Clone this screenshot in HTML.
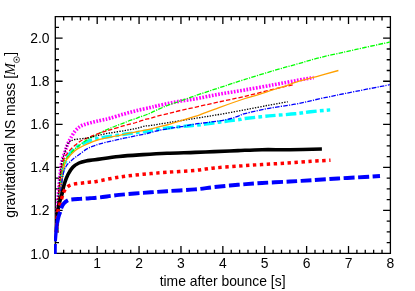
<!DOCTYPE html>
<html><head><meta charset="utf-8"><title>chart</title>
<style>html,body{margin:0;padding:0;background:#fff;}body{width:415px;height:291px;overflow:hidden;font-family:"Liberation Sans",sans-serif;}svg{display:block;position:absolute;left:0;top:0;will-change:transform}</style>
</head><body>
<svg width="415" height="291" viewBox="0 0 415 291">
<rect width="415" height="291" fill="#fff"/>
<clipPath id="c"><rect x="54.0" y="15.7" width="335.79999999999995" height="238.70000000000002"/></clipPath>
<path d="M55.3,16.7 H390.4 V253.4 H55.3 Z M55.30,253.4 v-7.3 M55.30,16.7 v7.3 M63.68,253.4 v-3.7 M63.68,16.7 v3.7 M72.05,253.4 v-3.7 M72.05,16.7 v3.7 M80.43,253.4 v-3.7 M80.43,16.7 v3.7 M88.81,253.4 v-3.7 M88.81,16.7 v3.7 M97.19,253.4 v-7.3 M97.19,16.7 v7.3 M105.56,253.4 v-3.7 M105.56,16.7 v3.7 M113.94,253.4 v-3.7 M113.94,16.7 v3.7 M122.32,253.4 v-3.7 M122.32,16.7 v3.7 M130.70,253.4 v-3.7 M130.70,16.7 v3.7 M139.07,253.4 v-7.3 M139.07,16.7 v7.3 M147.45,253.4 v-3.7 M147.45,16.7 v3.7 M155.83,253.4 v-3.7 M155.83,16.7 v3.7 M164.21,253.4 v-3.7 M164.21,16.7 v3.7 M172.58,253.4 v-3.7 M172.58,16.7 v3.7 M180.96,253.4 v-7.3 M180.96,16.7 v7.3 M189.34,253.4 v-3.7 M189.34,16.7 v3.7 M197.72,253.4 v-3.7 M197.72,16.7 v3.7 M206.09,253.4 v-3.7 M206.09,16.7 v3.7 M214.47,253.4 v-3.7 M214.47,16.7 v3.7 M222.85,253.4 v-7.3 M222.85,16.7 v7.3 M231.23,253.4 v-3.7 M231.23,16.7 v3.7 M239.61,253.4 v-3.7 M239.61,16.7 v3.7 M247.98,253.4 v-3.7 M247.98,16.7 v3.7 M256.36,253.4 v-3.7 M256.36,16.7 v3.7 M264.74,253.4 v-7.3 M264.74,16.7 v7.3 M273.12,253.4 v-3.7 M273.12,16.7 v3.7 M281.49,253.4 v-3.7 M281.49,16.7 v3.7 M289.87,253.4 v-3.7 M289.87,16.7 v3.7 M298.25,253.4 v-3.7 M298.25,16.7 v3.7 M306.62,253.4 v-7.3 M306.62,16.7 v7.3 M315.00,253.4 v-3.7 M315.00,16.7 v3.7 M323.38,253.4 v-3.7 M323.38,16.7 v3.7 M331.76,253.4 v-3.7 M331.76,16.7 v3.7 M340.13,253.4 v-3.7 M340.13,16.7 v3.7 M348.51,253.4 v-7.3 M348.51,16.7 v7.3 M356.89,253.4 v-3.7 M356.89,16.7 v3.7 M365.27,253.4 v-3.7 M365.27,16.7 v3.7 M373.64,253.4 v-3.7 M373.64,16.7 v3.7 M382.02,253.4 v-3.7 M382.02,16.7 v3.7 M390.40,253.4 v-7.3 M390.40,16.7 v7.3 M55.3,253.40 h7.3 M390.4,253.40 h-7.3 M55.3,242.64 h3.7 M390.4,242.64 h-3.7 M55.3,231.88 h3.7 M390.4,231.88 h-3.7 M55.3,221.12 h3.7 M390.4,221.12 h-3.7 M55.3,210.36 h7.3 M390.4,210.36 h-7.3 M55.3,199.60 h3.7 M390.4,199.60 h-3.7 M55.3,188.85 h3.7 M390.4,188.85 h-3.7 M55.3,178.09 h3.7 M390.4,178.09 h-3.7 M55.3,167.33 h7.3 M390.4,167.33 h-7.3 M55.3,156.57 h3.7 M390.4,156.57 h-3.7 M55.3,145.81 h3.7 M390.4,145.81 h-3.7 M55.3,135.05 h3.7 M390.4,135.05 h-3.7 M55.3,124.29 h7.3 M390.4,124.29 h-7.3 M55.3,113.53 h3.7 M390.4,113.53 h-3.7 M55.3,102.77 h3.7 M390.4,102.77 h-3.7 M55.3,92.01 h3.7 M390.4,92.01 h-3.7 M55.3,81.25 h7.3 M390.4,81.25 h-7.3 M55.3,70.50 h3.7 M390.4,70.50 h-3.7 M55.3,59.74 h3.7 M390.4,59.74 h-3.7 M55.3,48.98 h3.7 M390.4,48.98 h-3.7 M55.3,38.22 h7.3 M390.4,38.22 h-7.3 M55.3,27.46 h3.7 M390.4,27.46 h-3.7 M55.3,16.70 h3.7 M390.4,16.70 h-3.7" fill="none" stroke="#000" stroke-width="1.3" stroke-linecap="butt" stroke-linejoin="miter"/>
<g fill="none" stroke-linejoin="round" clip-path="url(#c)">
<path d="M57.00,232.00 C57.17,229.17 57.58,221.17 58.00,215.00 C58.42,208.83 58.83,201.67 59.50,195.00 C60.17,188.33 60.97,180.67 62.00,175.00 C63.03,169.33 64.37,164.58 65.70,161.00 C67.03,157.42 68.45,155.62 70.00,153.50 C71.55,151.38 73.17,149.78 75.00,148.30 C76.83,146.82 79.00,145.70 81.00,144.60 C83.00,143.50 85.00,142.53 87.00,141.70 C89.00,140.87 90.98,140.20 93.00,139.60 C95.02,139.00 96.08,138.65 99.10,138.10 C102.12,137.55 106.93,136.93 111.10,136.30 C115.27,135.67 119.93,134.92 124.10,134.30 C128.27,133.68 132.28,133.12 136.10,132.60 C139.92,132.08 143.52,131.68 147.00,131.20 C150.48,130.72 153.32,130.27 157.00,129.70 C160.68,129.13 164.07,128.42 169.10,127.80 C174.13,127.18 182.48,126.45 187.20,126.00 C191.92,125.55 194.10,125.45 197.40,125.10 C200.70,124.75 203.38,124.38 207.00,123.90 C210.62,123.42 215.48,122.70 219.10,122.20 C222.72,121.70 225.28,121.35 228.70,120.90 C232.12,120.45 236.88,119.90 239.60,119.50 C242.32,119.10 240.08,119.10 245.00,118.50 C249.92,117.90 260.77,116.68 269.10,115.90 C277.43,115.12 288.07,114.50 295.00,113.80 C301.93,113.10 304.83,112.35 310.70,111.70 C316.57,111.05 326.95,110.20 330.20,109.90" stroke="#00ffff" stroke-width="3.4" stroke-dasharray="10.5 3.2 3.7 3.2" stroke-dashoffset="6.81"/>
<path d="M56.60,232.00 C56.70,229.17 56.92,221.17 57.20,215.00 C57.48,208.83 57.62,203.33 58.30,195.00 C58.98,186.67 60.18,172.22 61.30,165.00 C62.42,157.78 63.88,155.28 65.00,151.70 C66.12,148.12 67.05,145.77 68.00,143.50 C68.95,141.23 69.53,140.15 70.70,138.10 C71.87,136.05 73.53,133.07 75.00,131.20 C76.47,129.33 77.98,127.98 79.50,126.90 C81.02,125.82 82.33,125.37 84.10,124.70 C85.87,124.03 88.10,123.45 90.10,122.90 C92.10,122.35 94.08,121.88 96.10,121.40 C98.12,120.92 99.88,120.53 102.20,120.00 C104.52,119.47 106.37,119.20 110.00,118.20 C113.63,117.20 119.50,115.28 124.00,114.00 C128.50,112.72 132.67,111.57 137.00,110.50 C141.33,109.43 146.67,108.37 150.00,107.60 C153.33,106.83 153.83,106.62 157.00,105.90 C160.17,105.18 165.00,104.12 169.00,103.30 C173.00,102.48 176.67,101.73 181.00,101.00 C185.33,100.27 188.65,100.03 195.00,98.90 C201.35,97.77 210.77,95.70 219.10,94.20 C227.43,92.70 235.83,91.48 245.00,89.90 C254.17,88.32 265.35,86.30 274.10,84.70 C282.85,83.10 290.90,81.48 297.50,80.30 C304.10,79.12 311.00,78.05 313.70,77.60" stroke="#ff00ff" stroke-width="3.6" stroke-dasharray="1.7 1.5"/>
<path d="M57.00,232.00 C57.17,229.17 57.58,221.17 58.00,215.00 C58.42,208.83 58.62,203.33 59.50,195.00 C60.38,186.67 61.88,171.42 63.30,165.00 C64.72,158.58 66.05,159.18 68.00,156.50 C69.95,153.82 72.83,150.97 75.00,148.90 C77.17,146.83 79.00,145.60 81.00,144.10 C83.00,142.60 85.00,141.18 87.00,139.90 C89.00,138.62 90.98,137.50 93.00,136.40 C95.02,135.30 97.10,134.28 99.10,133.30 C101.10,132.32 103.00,131.40 105.00,130.50 C107.00,129.60 108.93,128.80 111.10,127.90 C113.27,127.00 115.83,125.93 118.00,125.10 C120.17,124.27 122.10,123.68 124.10,122.90 C126.10,122.12 128.00,121.13 130.00,120.40 C132.00,119.67 134.43,119.08 136.10,118.50 C137.77,117.92 138.38,117.48 140.00,116.90 C141.62,116.32 144.13,115.62 145.80,115.00 C147.47,114.38 148.13,114.05 150.00,113.20 C151.87,112.35 153.83,111.28 157.00,109.90 C160.17,108.52 165.00,106.43 169.00,104.90 C173.00,103.37 176.67,102.22 181.00,100.70 C185.33,99.18 188.65,97.95 195.00,95.80 C201.35,93.65 210.77,90.53 219.10,87.80 C227.43,85.07 235.83,82.28 245.00,79.40 C254.17,76.52 265.35,73.08 274.10,70.50 C282.85,67.92 290.00,66.02 297.50,63.90 C305.00,61.78 311.18,59.80 319.10,57.80 C327.02,55.80 337.42,53.62 345.00,51.90 C352.58,50.18 357.10,49.15 364.60,47.50 C372.10,45.85 385.77,42.92 390.00,42.00" stroke="#00ff00" stroke-width="1.3" stroke-dasharray="4.6 1.2 1.2 1.2"/>
<path d="M56.80,232.00 C56.93,229.17 57.27,221.17 57.60,215.00 C57.93,208.83 58.07,203.33 58.80,195.00 C59.53,186.67 60.47,172.08 62.00,165.00 C63.53,157.92 65.83,155.78 68.00,152.50 C70.17,149.22 72.83,147.25 75.00,145.30 C77.17,143.35 79.00,142.00 81.00,140.80 C83.00,139.60 85.00,138.97 87.00,138.10 C89.00,137.23 90.98,136.40 93.00,135.60 C95.02,134.80 97.10,134.00 99.10,133.30 C101.10,132.60 103.00,132.02 105.00,131.40 C107.00,130.78 107.92,130.55 111.10,129.60 C114.28,128.65 119.93,126.88 124.10,125.70 C128.27,124.52 132.62,123.53 136.10,122.50 C139.58,121.47 142.68,120.18 145.00,119.50 C147.32,118.82 148.00,118.93 150.00,118.40 C152.00,117.87 153.82,117.13 157.00,116.30 C160.18,115.47 165.08,114.40 169.10,113.40 C173.12,112.40 176.78,111.32 181.10,110.30 C185.42,109.28 188.67,108.70 195.00,107.30 C201.33,105.90 210.77,103.73 219.10,101.90 C227.43,100.07 235.83,98.43 245.00,96.30 C254.17,94.17 266.13,91.02 274.10,89.10 C282.07,87.18 289.68,85.52 292.80,84.80" stroke="#ff0000" stroke-width="1.3" stroke-dasharray="4.4 2"/>
<path d="M56.60,232.00 C56.70,229.17 56.92,221.17 57.20,215.00 C57.48,208.83 57.62,203.33 58.30,195.00 C58.98,186.67 60.18,172.22 61.30,165.00 C62.42,157.78 64.05,154.95 65.00,151.70 C65.95,148.45 66.33,147.07 67.00,145.50 C67.67,143.93 68.25,143.12 69.00,142.30 C69.75,141.48 70.50,141.07 71.50,140.60 C72.50,140.13 73.42,139.80 75.00,139.50 C76.58,139.20 79.00,139.05 81.00,138.80 C83.00,138.55 85.00,138.35 87.00,138.00 C89.00,137.65 90.98,137.18 93.00,136.70 C95.02,136.22 96.08,135.75 99.10,135.10 C102.12,134.45 106.93,133.53 111.10,132.80 C115.27,132.07 119.93,131.42 124.10,130.70 C128.27,129.98 132.62,129.28 136.10,128.50 C139.58,127.72 142.68,126.48 145.00,126.00 C147.32,125.52 145.98,126.18 150.00,125.60 C154.02,125.02 161.60,123.70 169.10,122.50 C176.60,121.30 186.67,119.73 195.00,118.40 C203.33,117.07 210.77,115.93 219.10,114.50 C227.43,113.07 236.67,111.37 245.00,109.80 C253.33,108.23 261.97,106.43 269.10,105.10 C276.23,103.77 284.68,102.35 287.80,101.80" stroke="#000000" stroke-width="1.3" stroke-dasharray="1.35 1.35"/>
<path d="M57.00,232.00 C57.20,229.17 57.70,221.17 58.20,215.00 C58.70,208.83 58.95,203.33 60.00,195.00 C61.05,186.67 63.17,171.17 64.50,165.00 C65.83,158.83 66.25,160.38 68.00,158.00 C69.75,155.62 72.83,152.53 75.00,150.70 C77.17,148.87 79.00,148.10 81.00,147.00 C83.00,145.90 85.00,145.00 87.00,144.10 C89.00,143.20 90.98,142.37 93.00,141.60 C95.02,140.83 96.08,140.28 99.10,139.50 C102.12,138.72 106.93,137.75 111.10,136.90 C115.27,136.05 119.93,135.23 124.10,134.40 C128.27,133.57 132.62,132.60 136.10,131.90 C139.58,131.20 142.68,130.67 145.00,130.20 C147.32,129.73 148.00,129.58 150.00,129.10 C152.00,128.62 153.82,128.10 157.00,127.30 C160.18,126.50 165.08,125.40 169.10,124.30 C173.12,123.20 176.78,122.02 181.10,120.70 C185.42,119.38 191.88,117.37 195.00,116.40 C198.12,115.43 195.78,116.37 199.80,114.90 C203.82,113.43 211.57,110.33 219.10,107.60 C226.63,104.87 238.45,100.67 245.00,98.50 C251.55,96.33 253.55,96.10 258.40,94.60 C263.25,93.10 269.48,90.97 274.10,89.50 C278.72,88.03 282.28,87.07 286.10,85.80 C289.92,84.53 291.50,83.55 297.00,81.90 C302.50,80.25 312.20,77.80 319.10,75.90 C326.00,74.00 335.18,71.40 338.40,70.50" stroke="#ffa000" stroke-width="1.3"/>
<path d="M57.20,232.00 C57.40,229.17 57.90,221.17 58.40,215.00 C58.90,208.83 59.43,201.67 60.20,195.00 C60.97,188.33 61.98,179.83 63.00,175.00 C64.02,170.17 64.80,168.50 66.30,166.00 C67.80,163.50 69.95,161.85 72.00,160.00 C74.05,158.15 76.10,156.75 78.60,154.90 C81.10,153.05 84.60,150.35 87.00,148.90 C89.40,147.45 90.98,147.00 93.00,146.20 C95.02,145.40 96.08,144.95 99.10,144.10 C102.12,143.25 106.93,142.08 111.10,141.10 C115.27,140.12 119.93,139.10 124.10,138.20 C128.27,137.30 132.28,136.48 136.10,135.70 C139.92,134.92 143.52,134.30 147.00,133.50 C150.48,132.70 153.32,131.73 157.00,130.90 C160.68,130.07 165.08,129.20 169.10,128.50 C173.12,127.80 176.78,127.43 181.10,126.70 C185.42,125.97 188.67,125.07 195.00,124.10 C201.33,123.13 213.08,121.83 219.10,120.90 C225.12,119.97 227.88,119.30 231.10,118.50 C234.32,117.70 236.08,116.92 238.40,116.10 C240.72,115.28 239.88,114.90 245.00,113.60 C250.12,112.30 260.77,109.87 269.10,108.30 C277.43,106.73 286.67,105.77 295.00,104.20 C303.33,102.63 310.77,100.68 319.10,98.90 C327.43,97.12 333.18,95.87 345.00,93.50 C356.82,91.13 382.50,86.17 390.00,84.70" stroke="#0000ff" stroke-width="1.3" stroke-dasharray="4.6 1.2 1.2 1.2"/>
<path d="M56.50,232.00 C56.62,229.17 56.85,219.33 57.20,215.00 C57.55,210.67 58.10,208.50 58.60,206.00 C59.10,203.50 59.67,201.87 60.20,200.00 C60.73,198.13 61.12,197.47 61.80,194.80 C62.48,192.13 63.27,187.38 64.30,184.00 C65.33,180.62 66.58,177.28 68.00,174.50 C69.42,171.72 70.97,169.22 72.80,167.30 C74.63,165.38 76.80,164.07 79.00,163.00 C81.20,161.93 83.33,161.43 86.00,160.90 C88.67,160.37 89.50,160.53 95.00,159.80 C100.50,159.07 111.00,157.37 119.00,156.50 C127.00,155.63 135.00,155.15 143.00,154.60 C151.00,154.05 158.33,153.57 167.00,153.20 C175.67,152.83 187.17,152.67 195.00,152.40 C202.83,152.13 206.83,151.90 214.00,151.60 C221.17,151.30 230.00,150.92 238.00,150.60 C246.00,150.28 253.33,149.85 262.00,149.70 C270.67,149.55 280.02,149.82 290.00,149.70 C299.98,149.58 316.58,149.12 321.90,149.00" stroke="#000000" stroke-width="3.6"/>
<path d="M56.50,232.00 C56.63,229.33 56.98,219.83 57.30,216.00 C57.62,212.17 57.92,211.17 58.40,209.00 C58.88,206.83 59.60,204.92 60.20,203.00 C60.80,201.08 61.33,199.47 62.00,197.50 C62.67,195.53 63.08,193.12 64.20,191.20 C65.32,189.28 66.85,187.23 68.70,186.00 C70.55,184.77 73.00,184.30 75.30,183.80 C77.60,183.30 80.22,183.27 82.50,183.00 C84.78,182.73 86.68,182.47 89.00,182.20 C91.32,181.93 91.40,182.25 96.40,181.40 C101.40,180.55 111.23,178.28 119.00,177.10 C126.77,175.92 135.00,175.10 143.00,174.30 C151.00,173.50 158.33,172.95 167.00,172.30 C175.67,171.65 187.17,171.12 195.00,170.40 C202.83,169.68 206.83,168.70 214.00,168.00 C221.17,167.30 230.00,166.78 238.00,166.20 C246.00,165.62 253.83,165.02 262.00,164.50 C270.17,163.98 278.75,163.63 287.00,163.10 C295.25,162.57 304.25,161.78 311.50,161.30 C318.75,160.82 327.33,160.38 330.50,160.20" stroke="#ff0000" stroke-width="3.5" stroke-dasharray="3.4 3.53" stroke-dashoffset="1.13"/>
<path d="M57.30,222.20 C57.52,221.25 58.08,218.30 58.60,216.50 C59.12,214.70 59.93,212.85 60.40,211.40 C60.87,209.95 60.80,209.17 61.40,207.80 C62.00,206.43 62.88,204.47 64.00,203.20 C65.12,201.93 66.82,200.82 68.10,200.20 C69.38,199.58 69.72,199.72 71.70,199.50 C73.68,199.28 76.98,199.10 80.00,198.90 C83.02,198.70 86.47,198.55 89.80,198.30 C93.13,198.05 95.13,197.97 100.00,197.40 C104.87,196.83 111.83,195.65 119.00,194.90 C126.17,194.15 135.00,193.52 143.00,192.90 C151.00,192.28 158.33,191.78 167.00,191.20 C175.67,190.62 187.17,190.08 195.00,189.40 C202.83,188.72 206.83,187.87 214.00,187.10 C221.17,186.33 230.00,185.48 238.00,184.80 C246.00,184.12 253.33,183.55 262.00,183.00 C270.67,182.45 281.75,181.97 290.00,181.50 C298.25,181.03 303.50,180.70 311.50,180.20 C319.50,179.70 329.15,179.03 338.00,178.50 C346.85,177.97 357.60,177.42 364.60,177.00 C371.60,176.58 377.43,176.17 380.00,176.00" stroke="#0000ff" stroke-width="3.9" stroke-dasharray="10.8 3.58"/>
<path d="M55.1,254 L55.2,243.9 M55.3,241.3 L56.4,228 L57.3,222" stroke="#0000ff" stroke-width="3.3"/>
</g>
<g font-family="Liberation Sans, sans-serif" font-size="13.9" fill="#000" style="filter:grayscale(1)">
<text x="97.19" y="267.5" text-anchor="middle">1</text>
<text x="139.07" y="267.5" text-anchor="middle">2</text>
<text x="180.96" y="267.5" text-anchor="middle">3</text>
<text x="222.85" y="267.5" text-anchor="middle">4</text>
<text x="264.74" y="267.5" text-anchor="middle">5</text>
<text x="306.62" y="267.5" text-anchor="middle">6</text>
<text x="348.51" y="267.5" text-anchor="middle">7</text>
<text x="390.40" y="267.5" text-anchor="middle">8</text>
<text x="49.6" y="258.50" text-anchor="end">1.0</text>
<text x="49.6" y="215.46" text-anchor="end">1.2</text>
<text x="49.6" y="172.43" text-anchor="end">1.4</text>
<text x="49.6" y="129.39" text-anchor="end">1.6</text>
<text x="49.6" y="86.35" text-anchor="end">1.8</text>
<text x="49.6" y="43.32" text-anchor="end">2.0</text>
<text x="222.6" y="285.7" text-anchor="middle">time after bounce [s]</text>
<text transform="translate(15.1,217.8) rotate(-90)">gravitational NS mass [<tspan font-family="Liberation Serif, serif" font-style="italic" font-size="14.2">M</tspan><tspan dx="7.4">]</tspan></text>
<circle cx="16.6" cy="59.7" r="2.9" fill="none" stroke="#000" stroke-width="0.7"/><circle cx="16.6" cy="59.7" r="0.85" fill="#000"/>
</g>
</svg>
</body></html>
